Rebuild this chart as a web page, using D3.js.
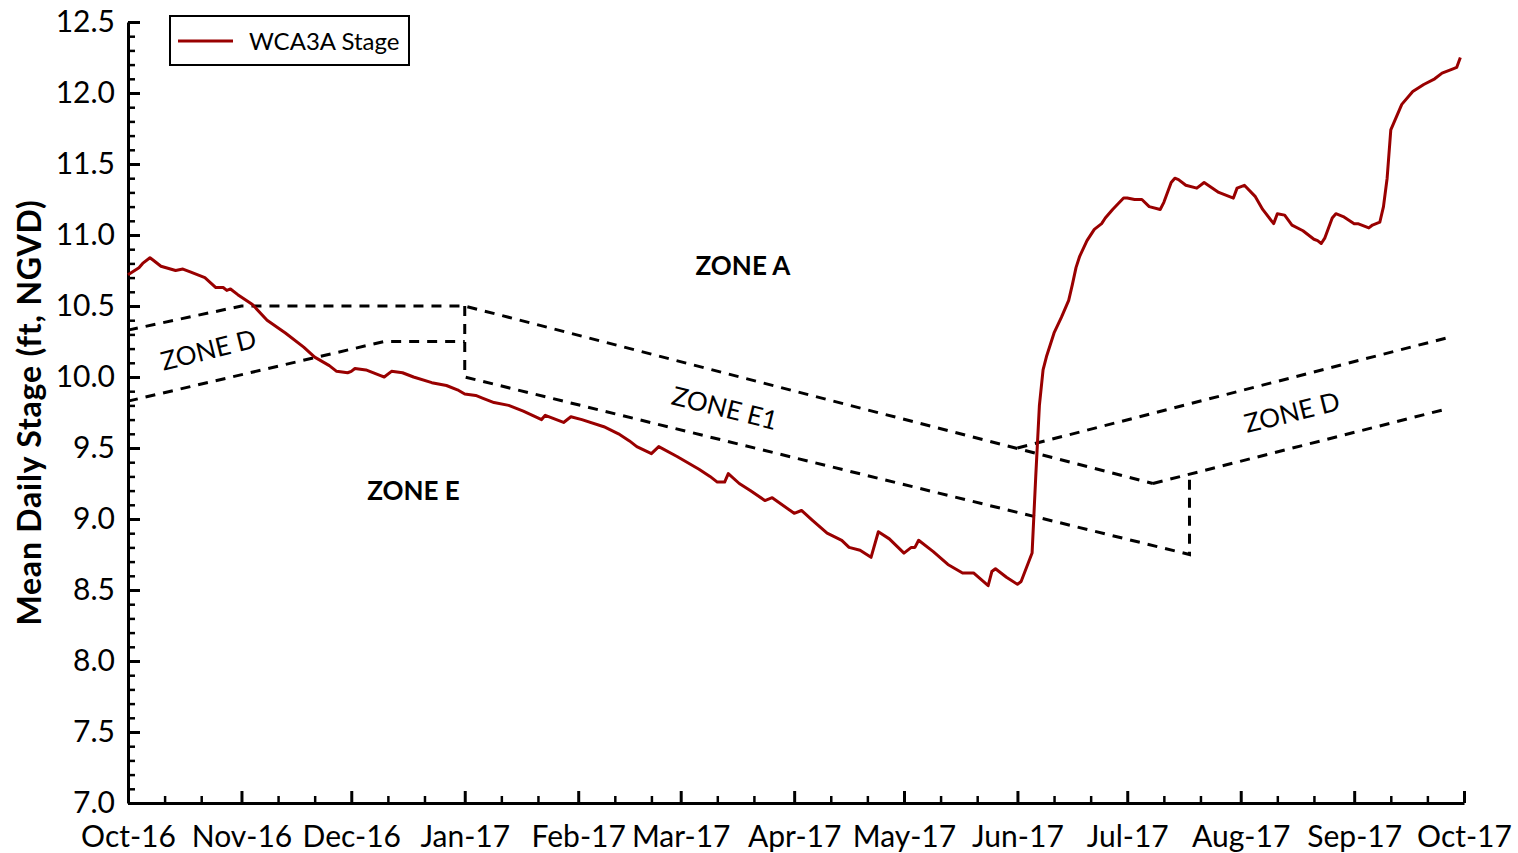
<!DOCTYPE html>
<html>
<head>
<meta charset="utf-8">
<script src="https://cdn.jsdelivr.net/npm/d3@7"></script>
<style>
  html, body { margin: 0; padding: 0; background: #fff; }
  svg { display: block; font-family: Lato, "Open Sans", sans-serif; }
</style>
</head>
<body>
<svg id="chart" width="1518" height="853"></svg>
<script>
// daily stage readings (sampled from the chart)
const stageDates = [
  "2016-10-01","2016-10-04","2016-10-05","2016-10-07","2016-10-08","2016-10-10","2016-10-14","2016-10-16",
  "2016-10-18","2016-10-22","2016-10-25","2016-10-27","2016-10-28","2016-10-29","2016-10-31","2016-11-04",
  "2016-11-08","2016-11-13","2016-11-18","2016-11-21","2016-11-25","2016-11-27","2016-11-30","2016-12-01",
  "2016-12-02","2016-12-05","2016-12-09","2016-12-10","2016-12-12","2016-12-15","2016-12-18","2016-12-23",
  "2016-12-27","2016-12-30","2017-01-01","2017-01-04","2017-01-06","2017-01-09","2017-01-13","2017-01-17",
  "2017-01-22","2017-01-23","2017-01-28","2017-01-30","2017-02-02","2017-02-08","2017-02-12","2017-02-15",
  "2017-02-17","2017-02-21","2017-02-23","2017-02-28","2017-03-06","2017-03-09","2017-03-11","2017-03-13",
  "2017-03-14","2017-03-17","2017-03-20","2017-03-24","2017-03-26","2017-04-01","2017-04-03","2017-04-06",
  "2017-04-10","2017-04-14","2017-04-16","2017-04-19","2017-04-22","2017-04-24","2017-04-27","2017-05-01",
  "2017-05-03","2017-05-04","2017-05-05","2017-05-09","2017-05-13","2017-05-17","2017-05-20","2017-05-24",
  "2017-05-25","2017-05-26","2017-05-29","2017-06-01","2017-06-02","2017-06-05","2017-06-06","2017-06-07",
  "2017-06-08","2017-06-09","2017-06-11","2017-06-13","2017-06-15","2017-06-16","2017-06-17","2017-06-18",
  "2017-06-20","2017-06-22","2017-06-24","2017-06-25","2017-06-27","2017-06-30","2017-07-01","2017-07-03",
  "2017-07-05","2017-07-07","2017-07-10","2017-07-11","2017-07-13","2017-07-14","2017-07-15","2017-07-17",
  "2017-07-20","2017-07-22","2017-07-26","2017-07-30","2017-07-31","2017-08-02","2017-08-05","2017-08-07",
  "2017-08-10","2017-08-11","2017-08-13","2017-08-15","2017-08-18","2017-08-21","2017-08-22","2017-08-23",
  "2017-08-24","2017-08-26","2017-08-27","2017-08-29","2017-09-01","2017-09-02","2017-09-05","2017-09-06",
  "2017-09-08","2017-09-09","2017-09-10","2017-09-11","2017-09-12","2017-09-14","2017-09-17","2017-09-20",
  "2017-09-23","2017-09-25","2017-09-28","2017-09-29","2017-09-30"
];
const stageValues = [
  10.72,10.77,10.80,10.84,10.82,10.78,10.75,10.76,
  10.74,10.70,10.63,10.63,10.61,10.62,10.58,10.51,
  10.40,10.31,10.21,10.14,10.08,10.04,10.03,10.04,
  10.06,10.05,10.01,10.00,10.04,10.03,10.00,9.96,
  9.94,9.91,9.88,9.87,9.85,9.82,9.80,9.76,
  9.70,9.73,9.68,9.72,9.70,9.65,9.60,9.55,
  9.51,9.46,9.51,9.44,9.35,9.30,9.26,9.26,
  9.32,9.25,9.20,9.13,9.15,9.04,9.06,8.99,
  8.90,8.85,8.80,8.78,8.73,8.91,8.86,8.76,
  8.80,8.80,8.85,8.77,8.68,8.62,8.62,8.53,
  8.63,8.65,8.59,8.54,8.56,8.76,9.30,9.80,
  10.05,10.15,10.31,10.42,10.54,10.65,10.77,10.85,
  10.96,11.04,11.08,11.12,11.18,11.26,11.26,11.25,
  11.25,11.20,11.18,11.23,11.37,11.40,11.39,11.35,
  11.33,11.37,11.30,11.26,11.33,11.35,11.27,11.18,
  11.08,11.15,11.14,11.07,11.03,10.97,10.96,10.94,
  10.98,11.12,11.15,11.13,11.08,11.08,11.05,11.07,
  11.09,11.20,11.40,11.74,11.80,11.92,12.01,12.06,
  12.10,12.14,12.17,12.18,12.25
];

// regulation schedule zone lines [date, stage]
const zoneAUpper = [["2016-10-01",10.33],["2016-11-01",10.5],["2017-01-01",10.5],["2017-07-08",9.25]];
const zoneDLowerDry = [["2016-10-01",9.83],["2016-12-10",10.25],["2017-01-01",10.25]];
const zoneE1Lower = [["2017-01-01",10.5],["2017-01-01",10.0],["2017-07-18",8.75],["2017-07-18",9.31]];
const zoneDUpperWet = [["2017-06-01",9.5],["2017-09-27",10.28]];
const zoneDLowerWet = [["2017-07-08",9.25],["2017-09-27",9.78]];

const zoneLabels = [
  { text: "ZONE A", date: "2017-03-18", value: 10.78, angle: 0, bold: true },
  { text: "ZONE E", date: "2016-12-18", value: 9.20, angle: 0, bold: true },
  { text: "ZONE D", date: "2016-10-23", value: 10.19, angle: -14, bold: false },
  { text: "ZONE E1", date: "2017-03-13", value: 9.78, angle: 14, bold: false },
  { text: "ZONE D", date: "2017-08-15", value: 9.75, angle: -14, bold: false }
];

const yTicks = [7.0, 7.5, 8.0, 8.5, 9.0, 9.5, 10.0, 10.5, 11.0, 11.5, 12.0, 12.5];

const parse = d3.utcParse("%Y-%m-%d");
const lineColor = "#990000";

const svg = d3.select("#chart");
const margin = { left: 128, right: 54, top: 22, bottom: 50 };
const width = 1518, height = 853;

const x = d3.scaleUtc()
  .domain([parse("2016-10-01"), parse("2017-10-01")])
  .range([margin.left, width - margin.right]);
const y = d3.scaleLinear()
  .domain([7, 12.5])
  .range([height - margin.bottom, margin.top]);

// minor ticks
const minorX = [];
d3.utcMonths(parse("2016-10-01"), parse("2017-10-01")).forEach(m => {
  minorX.push(d3.utcDay.offset(m, 10), d3.utcDay.offset(m, 20));
});
const minorY = d3.range(70, 126).filter(v => v % 5 !== 0).map(v => v / 10);

svg.append("g")
  .attr("transform", `translate(0,${y(7)})`)
  .call(d3.axisBottom(x).tickValues(minorX).tickSize(-7).tickFormat(""))
  .call(g => g.select(".domain").remove())
  .call(g => g.selectAll("line").attr("stroke", "#000").attr("stroke-width", 2.5));

svg.append("g")
  .attr("transform", `translate(${x.range()[0]},0)`)
  .call(d3.axisLeft(y).tickValues(minorY).tickSize(-7).tickFormat(""))
  .call(g => g.select(".domain").remove())
  .call(g => g.selectAll("line").attr("stroke", "#000").attr("stroke-width", 2.5));

// major axes
svg.append("g")
  .attr("transform", `translate(0,${y(7)})`)
  .call(d3.axisBottom(x)
    .ticks(d3.utcMonth.every(1))
    .tickFormat(d3.utcFormat("%b-%y"))
    .tickSize(-12).tickSizeOuter(0).tickPadding(23))
  .call(g => g.select(".domain").attr("stroke-width", 3))
  .call(g => g.selectAll("line").attr("stroke-width", 3))
  .call(g => g.selectAll("text").attr("font-size", 30).attr("font-family", "Lato").attr("fill", "#000"));

svg.append("g")
  .attr("transform", `translate(${x.range()[0]},0)`)
  .call(d3.axisLeft(y)
    .tickValues(yTicks)
    .tickFormat(d3.format(".1f"))
    .tickSize(-12).tickSizeOuter(0).tickPadding(13))
  .call(g => g.select(".domain").attr("stroke-width", 3))
  .call(g => g.selectAll("line").attr("stroke-width", 3))
  .call(g => g.selectAll("text").attr("font-size", 30).attr("font-family", "Lato").attr("fill", "#000"));

// y axis title
svg.append("text")
  .attr("transform", `translate(41,${(y(7) + y(12.5)) / 2}) rotate(-90)`)
  .attr("text-anchor", "middle")
  .attr("font-size", 32)
  .attr("font-weight", "bold")
  .attr("letter-spacing", 0.8)
  .text("Mean Daily Stage (ft, NGVD)");

// zone lines
const zoneLine = d3.line()
  .x(d => x(parse(d[0])))
  .y(d => y(d[1]));

[zoneAUpper, zoneDLowerDry, zoneE1Lower, zoneDUpperWet, zoneDLowerWet].forEach(seg => {
  svg.append("path")
    .datum(seg)
    .attr("d", zoneLine)
    .attr("fill", "none")
    .attr("stroke", "#000")
    .attr("stroke-width", 3)
    .attr("stroke-dasharray", "10 8");
});

// zone labels
zoneLabels.forEach(l => {
  const px = x(parse(l.date)), py = y(l.value);
  svg.append("text")
    .attr("transform", `translate(${px},${py}) rotate(${l.angle})`)
    .attr("text-anchor", "middle")
    .attr("dy", "0.35em")
    .attr("font-size", 26)
    .attr("font-weight", l.bold ? "bold" : "normal")
    .text(l.text);
});

// stage line
const stage = stageDates.map((d, i) => ({ date: parse(d), value: stageValues[i] }));
svg.append("path")
  .datum(stage)
  .attr("d", d3.line().x(d => x(d.date)).y(d => y(d.value)))
  .attr("fill", "none")
  .attr("stroke", lineColor)
  .attr("stroke-width", 3)
  .attr("stroke-linejoin", "round");

// legend
const legend = svg.append("g").attr("transform", "translate(170,16)");
legend.append("rect")
  .attr("width", 239).attr("height", 49)
  .attr("fill", "#fff").attr("stroke", "#000").attr("stroke-width", 2);
legend.append("line")
  .attr("x1", 8).attr("x2", 63).attr("y1", 25).attr("y2", 25)
  .attr("stroke", lineColor).attr("stroke-width", 3);
legend.append("text")
  .attr("x", 79).attr("y", 34)
  .attr("font-size", 24)
  .text("WCA3A Stage");
</script>
</body>
</html>
